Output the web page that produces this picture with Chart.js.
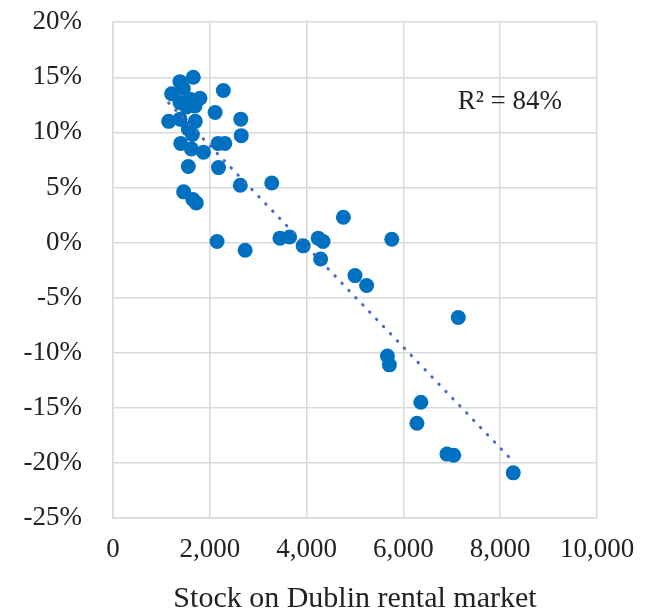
<!DOCTYPE html>
<html>
<head>
<meta charset="utf-8">
<script src="https://cdn.jsdelivr.net/npm/chart.js@4.4.1/dist/chart.umd.min.js"></script>
<style>
  html, body { margin: 0; padding: 0; background: #fff; }
  #wrap { width: 653px; height: 614px; }
</style>
</head>
<body>
<div id="wrap"><canvas id="grafico1"></canvas></div>
<script>
"use strict";

// stock on Dublin rental market (x) vs rent change in % (y)
const stock = [1659, 1384, 1453, 1212, 2280, 1797, 1591, 1384, 1522, 1694,
	2110, 1150, 1384, 1700, 2640, 1556, 1640, 2650, 1400, 1620,
	1870, 2170, 2310, 1556, 2180, 2630, 3280, 1460, 1650, 1720,
	2150, 2730, 3450, 3650, 3930, 4240, 4340, 4290, 4760, 5000,
	5240, 5760, 7134, 5670, 5710, 6360, 6280, 6900, 7040, 8270];
const rentChange = [15.0, 14.6, 14.0, 13.5, 13.8, 13.1, 13.0, 12.7, 12.3, 12.4,
	11.8, 11.0, 11.2, 11.0, 11.2, 10.3, 9.8, 9.7, 9.0, 8.5,
	8.2, 9.0, 9.0, 6.9, 6.8, 5.2, 5.4, 4.6, 3.9, 3.6,
	0.1, -0.7, 0.4, 0.5, -0.3, 0.4, 0.1, -1.5, 2.3, -3.0,
	-3.9, 0.3, -6.8, -10.3, -11.1, -14.5, -16.4, -19.2, -19.3, -20.9];

const xTicks = [0, 2000, 4000, 6000, 8000, 10000];
const yTicks = [20, 15, 10, 5, 0, -5, -10, -15, -20, -25];
const r2Label = "R² = 84%";
const xTitle = "Stock on Dublin rental market";

const points = stock.map((x, i) => ({ x: x, y: rentChange[i] }));

// linear trend (least squares) over the data range
function linearFit(xs, ys) {
	const n = xs.length;
	const mx = xs.reduce((a, b) => a + b, 0) / n;
	const my = ys.reduce((a, b) => a + b, 0) / n;
	let sxy = 0, sxx = 0;
	for (let i = 0; i < n; i++) {
		sxy += (xs[i] - mx) * (ys[i] - my);
		sxx += (xs[i] - mx) * (xs[i] - mx);
	}
	const slope = sxy / sxx;
	return x => my + slope * (x - mx);
}
const fit = linearFit(stock, rentChange);
const xMin = Math.min(...stock);
const xMax = Math.max(...stock);
const trend = [{ x: xMin, y: fit(xMin) }, { x: xMax, y: fit(xMax) }];

const serif = "'Liberation Serif', 'Times New Roman', serif";
const gridColor = "#d9d9d9";

const r2Text = {
	id: "r2Text",
	afterDatasetsDraw(chart) {
		const c = chart.ctx;
		const xs = chart.scales.x;
		const ys = chart.scales.y;
		c.save();
		c.font = "27px " + serif;
		c.fillStyle = "#222";
		c.textAlign = "center";
		c.textBaseline = "middle";
		c.fillText(r2Label, xs.getPixelForValue(8200), ys.getPixelForValue(12.8));
		c.restore();
	},
};

const ctx = document.getElementById("grafico1");

let chart1 = new Chart(ctx, {
	type: "scatter",
	data: {
		datasets: [
			{
				label: "Trend",
				type: "line",
				data: trend,
				order: 0,
				borderColor: "#4a68c4",
				borderWidth: 3,
				borderDash: [0.5, 9.5],
				borderCapStyle: "round",
				pointRadius: 0,
				fill: false,
			},
			{
				label: "Rent change",
				data: points,
				order: 1,
				backgroundColor: "#0070c0",
				borderColor: "#0070c0",
				borderWidth: 0,
				pointRadius: 7.5,
			},
		],
	},
	options: {
		responsive: true,
		maintainAspectRatio: false,
		animation: false,
		layout: { padding: { top: 0, right: 56, left: 0, bottom: 0 } },
		plugins: {
			legend: { display: false },
			tooltip: { enabled: false },
		},
		scales: {
			x: {
				type: "linear",
				min: 0,
				max: 10000,
				afterBuildTicks: s => { s.ticks = xTicks.map(v => ({ value: v })); },
				afterFit: s => { s.height = 96; },
				ticks: {
					padding: 16,
					color: "#222",
					font: { family: serif, size: 27 },
					maxRotation: 0,
					callback: v => v.toLocaleString("en-US"),
				},
				grid: { color: gridColor, lineWidth: 1.5, drawTicks: false },
				border: { color: gridColor, width: 1.5 },
				title: {
					display: true,
					text: xTitle,
					color: "#222",
					font: { family: serif, size: 30, lineHeight: 1.0 },
					padding: { top: 0, bottom: 0 },
				},
			},
			y: {
				type: "linear",
				min: -25,
				max: 20,
				afterBuildTicks: s => { s.ticks = yTicks.map(v => ({ value: v })); },
				afterFit: s => { s.width = 113; },
				ticks: {
					padding: 8,
					color: "#222",
					font: { family: serif, size: 27, lineHeight: 1.05 },
					callback: v => v + "%",
				},
				grid: {
					color: gridColor,
					lineWidth: 1.5,
					drawTicks: true,
					tickLength: 23,
					tickColor: "rgba(0,0,0,0)",
				},
				border: { color: gridColor, width: 1.5 },
			},
		},
	},
	plugins: [r2Text],
});
</script>
</body>
</html>
